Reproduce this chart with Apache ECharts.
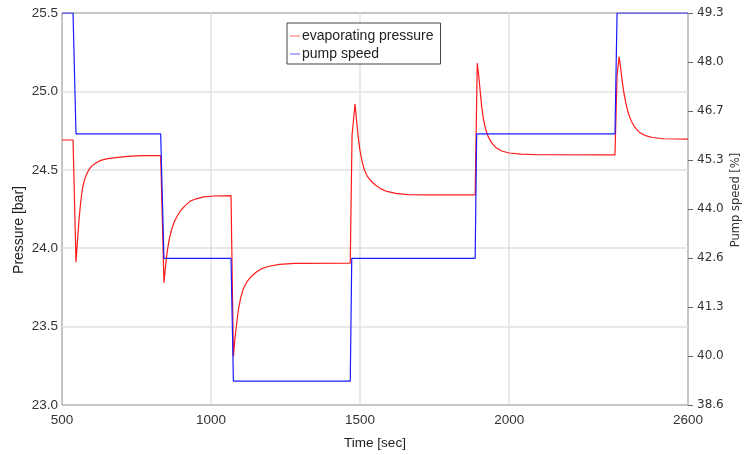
<!DOCTYPE html>
<html>
<head>
<meta charset="utf-8">
<script src="https://cdn.jsdelivr.net/npm/echarts@6/dist/echarts.min.js"></script>
<style>
  html, body { margin: 0; padding: 0; background: #fff; }
  #chart { width: 747px; height: 455px; }
</style>
</head>
<body>
<div id="chart"></div>
<script>
// evaporating pressure [bar] vs time [sec]
const pressureTime = [500, 537,
  547, 552, 557, 562, 567, 573, 580, 590, 600, 615, 630, 650, 680, 720, 770, 831,
  842, 847, 853, 860, 868, 877, 888, 900, 915, 930, 950, 975, 1010, 1067,
  1075, 1080, 1086, 1092, 1099, 1108, 1120, 1135, 1150, 1170, 1195, 1230, 1280, 1467,
  1473, 1477, 1483, 1488, 1493, 1499, 1506, 1514, 1524, 1536, 1550, 1568, 1590, 1620, 1660, 1720, 1886,
  1893, 1898, 1903, 1908, 1914, 1921, 1930, 1942, 1956, 1975, 2000, 2040, 2100, 2355,
  2362, 2369, 2374, 2379, 2385, 2392, 2400, 2410, 2422, 2436, 2455, 2480, 2520, 2600]
const pressureValues = [24.69, 24.69,
  23.91, 24.05, 24.18, 24.28, 24.36, 24.42, 24.46, 24.50, 24.525, 24.545, 24.56, 24.57, 24.578, 24.585, 24.59, 24.59,
  23.78, 23.88, 23.98, 24.06, 24.12, 24.17, 24.21, 24.245, 24.275, 24.30, 24.315, 24.327, 24.333, 24.335,
  23.31, 23.42, 23.52, 23.61, 23.68, 23.74, 23.785, 23.82, 23.845, 23.87, 23.885, 23.897, 23.903, 23.905,
  24.72, 24.80, 24.92, 24.82, 24.72, 24.63, 24.56, 24.50, 24.46, 24.43, 24.405, 24.38, 24.362, 24.35, 24.342, 24.34, 24.34,
  25.18, 25.10, 25.00, 24.90, 24.82, 24.76, 24.71, 24.67, 24.64, 24.62, 24.607, 24.60, 24.596, 24.595,
  25.10, 25.22, 25.15, 25.07, 24.99, 24.92, 24.86, 24.81, 24.77, 24.74, 24.72, 24.706, 24.698, 24.695]

// pump speed [%] vs time [sec]
const pumpTime = [500, 537, 547, 831, 842, 1067, 1075, 1467, 1472, 1886, 1891, 2355, 2362, 2600]
const pumpValues = [49.3, 49.3, 46.0, 46.0, 42.6, 42.6, 39.25, 39.25, 42.6, 42.6, 46.0, 46.0, 49.3, 49.3]

const timeLabels = [500, 1000, 1500, 2000, 2600]
const timeGrid = [1000, 1500, 2000]
const pressureLabels = [23.0, 23.5, 24.0, 24.5, 25.0, 25.5]
const pressureGrid = [23.5, 24.0, 24.5, 25.0]
const pumpLabels = ['38.6', '40.0', '41.3', '42.6', '44.0', '45.3', '46.7', '48.0', '49.3']

const pumpMin = 38.6
const pumpMax = 49.3
const pumpStep = (pumpMax - pumpMin) / (pumpLabels.length - 1)
const pumpTicks = pumpLabels.map((_, i) => pumpMin + i * pumpStep)

const zip = (xs, ys) => xs.map((x, i) => [x, ys[i]])

const chart = echarts.init(document.getElementById('chart'))

const labelFont = { fontFamily: 'Liberation Sans', fontSize: 13.5, color: '#333' }

chart.setOption({
  animation: false,
  backgroundColor: '#fff',
  grid: {
    left: 62, right: 59, top: 13, bottom: 50,
    containLabel: false,
    outerBoundsMode: 'none',
    show: true,
    borderColor: '#8a8a8a',
    borderWidth: 1
  },
  legend: {
    orient: 'vertical',
    left: 287,
    top: 23,
    padding: [6, 7, 3, 3],
    itemGap: 4,
    itemWidth: 10,
    itemHeight: 1,
    icon: 'rect',
    backgroundColor: '#fff',
    borderColor: '#444',
    borderWidth: 1,
    borderRadius: 0,
    textStyle: { fontFamily: 'Liberation Sans', fontSize: 14, color: '#222', padding: [0, 0, 0, -3] },
    data: [
      { name: 'evaporating pressure', itemStyle: { color: '#ff6060' } },
      { name: 'pump speed', itemStyle: { color: '#6060ff' } }
    ]
  },
  xAxis: {
    type: 'value',
    min: 500,
    max: 2600,
    name: 'Time [sec]',
    nameLocation: 'middle',
    nameGap: 31,
    nameMoveOverlap: false,
    nameTextStyle: { fontFamily: 'Liberation Sans', fontSize: 13.5, color: '#222' },
    axisLine: { show: false },
    axisTick: { show: false, customValues: timeGrid },
    axisLabel: { ...labelFont, margin: 8, customValues: timeLabels, formatter: v => String(v) },
    splitLine: { show: true, lineStyle: { color: '#e2e2e2', width: 1.5 } }
  },
  yAxis: [
    {
      type: 'value',
      min: 23,
      max: 25.5,
      name: 'Pressure [bar]',
      nameLocation: 'middle',
      nameGap: 36,
      nameMoveOverlap: false,
      nameTextStyle: { fontFamily: 'Liberation Sans', fontSize: 14, color: '#222', padding: [0, 42, 0, 0] },
      axisLine: { show: false },
      axisTick: { show: false, customValues: pressureGrid },
      axisLabel: { ...labelFont, margin: 4, customValues: pressureLabels, formatter: v => v.toFixed(1) },
      splitLine: { show: true, lineStyle: { color: '#e2e2e2', width: 1.5 } }
    },
    {
      type: 'value',
      position: 'right',
      min: pumpMin,
      max: pumpMax,
      name: 'Pump speed [%]',
      nameLocation: 'middle',
      nameGap: 42,
      nameMoveOverlap: false,
      nameTextStyle: { fontFamily: 'DejaVu Sans', fontSize: 11.5, color: '#333', padding: [0, 0, 0, 18] },
      axisLine: { show: false },
      axisTick: { show: true, inside: false, length: 5, customValues: pumpTicks, lineStyle: { color: '#666' } },
      axisLabel: {
        fontFamily: 'DejaVu Sans', fontSize: 12, color: '#333', margin: 9,
        customValues: pumpTicks,
        formatter: v => {
          const i = Math.round((v - pumpMin) / pumpStep)
          return pumpLabels[i]
        }
      },
      splitLine: { show: false }
    }
  ],
  series: [
    {
      name: 'evaporating pressure',
      type: 'line',
      yAxisIndex: 0,
      showSymbol: false,
      symbol: 'none',
      data: zip(pressureTime, pressureValues),
      lineStyle: { color: '#ff1a1a', width: 1.2 },
      itemStyle: { color: '#ff1a1a' },
      z: 2
    },
    {
      name: 'pump speed',
      type: 'line',
      yAxisIndex: 1,
      showSymbol: false,
      symbol: 'none',
      data: zip(pumpTime, pumpValues),
      lineStyle: { color: '#1a1aff', width: 1.2 },
      itemStyle: { color: '#1a1aff' },
      z: 3
    }
  ]
})
</script>
</body>
</html>
